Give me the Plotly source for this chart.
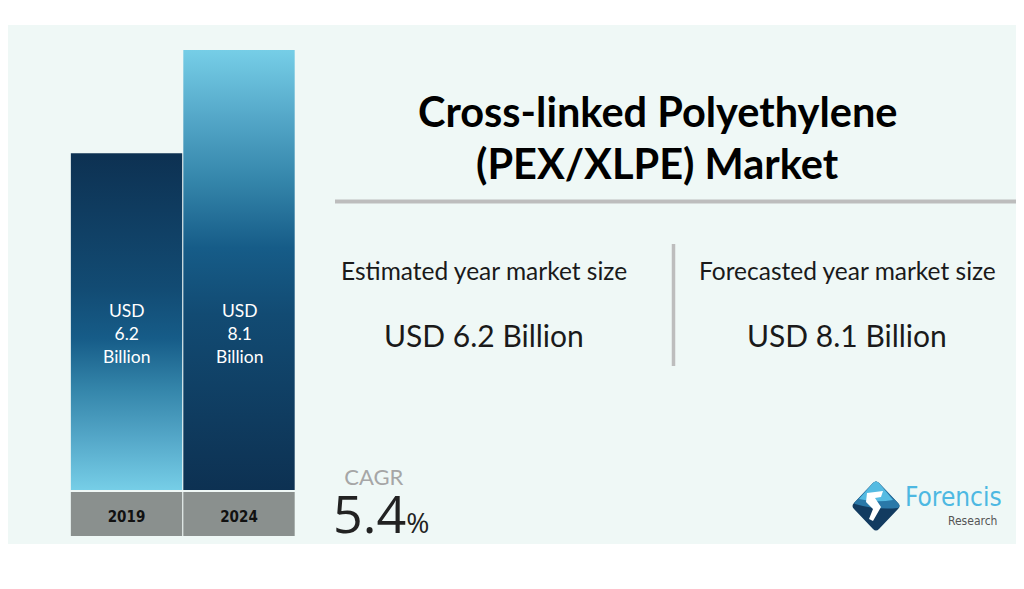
import plotly.graph_objects as go

# ---------------- data ----------------
years = ["2019", "2024"]
values = [6.2, 8.1]
unit = "Billion"
currency = "USD"
cagr = 5.4
title_lines = ["Cross-linked Polyethylene", "(PEX/XLPE) Market"]
side_labels = ["Estimated year market size", "Forecasted year market size"]

# ---------------- styles ----------------
W, H = 1024, 589
OX, OY = 8, 8  # page body margin offset
FONT = "Lato, Carlito, 'Open Sans', sans-serif"
NARROW = "'Liberation Sans Narrow', 'DejaVu Sans Condensed', Roboto, sans-serif"
BG = "#eff8f6"
dark_to_light = [
    (0.0, "#0d3152"), (0.4, "#124b73"), (0.55, "#165c88"),
    (0.7, "#3485aa"), (0.85, "#55a8c9"), (1.0, "#76cee7")
]
scales = [
    [[1 - p, c] for p, c in reversed(dark_to_light)],  # 2019: light at bottom
    [[p, c] for p, c in dark_to_light],                # 2024: dark at bottom
]
half = 0.495


def px(xp):
    return (xp - OX) / W


def py(yp):
    return 1 - (yp - OY) / H


fig = go.Figure()

# bars drawn as gradient-filled areas on the data axes
for i, (yr, v) in enumerate(zip(years, values)):
    fig.add_trace(go.Scatter(
        x=[i - half, i + half], y=[v, v],
        mode="lines", line=dict(width=0, color="rgba(0,0,0,0)"),
        fill="tozeroy",
        fillgradient=dict(type="vertical", colorscale=scales[i], start=0, stop=v),
        name=yr, hoverinfo="skip", showlegend=False,
    ))

shapes = []
# background panel
shapes.append(dict(type="rect", xref="paper", yref="paper", x0=0, x1=1.0,
                   y0=py(544), y1=py(25), fillcolor=BG, line=dict(width=0), layer="below"))
# grey year boxes
for i, yr in enumerate(years):
    shapes.append(dict(type="rect", xref="x", yref="paper", x0=i - half, x1=i + half,
                       y0=py(536), y1=py(492), fillcolor="#8a908e", line=dict(width=0),
                       layer="below"))
# separators
shapes.append(dict(type="line", xref="paper", yref="paper", x0=px(335), x1=1.0,
                   y0=py(201.5), y1=py(201.5), line=dict(color="#bdbdbd", width=4)))
shapes.append(dict(type="line", xref="paper", yref="paper", x0=px(673.5), x1=px(673.5),
                   y0=py(244), y1=py(366), line=dict(color="#bdbdbd", width=3.5)))

# logo diamond (pixel-sized around an anchor)
lx, ly = px(876), py(506)
def logo_path(d, color):
    return dict(type="path", xref="paper", yref="paper", xsizemode="pixel", ysizemode="pixel",
                xanchor=lx, yanchor=ly, path=d, fillcolor=color, line=dict(width=0))
shapes.append(logo_path("M -3,23 Q 0,26 3,23 L 22,3 Q 25,0 22,-3 L 3,-23 Q 0,-26 -3,-23 "
                        "L -22,-3 Q -25,0 -22,3 Z", "#123b60"))
shapes.append(logo_path("M -21,2 Q 0,-4 22,-2 Q 25,0 22,3 L 3,23 Q 0,26 -3,23 L -22,3 Z", "#2a78a8"))
shapes.append(logo_path("M -17,7 Q 0,3 17,6 L 3,23 Q 0,26 -3,23 Z", "#55bbe2"))
shapes.append(logo_path("M -9,13 L 7,15 L 5,9 L -1,8 L 5,-1 L -3,-15 L -7,-13 L -3,-3 "
                        "L -10,4 Z", "#ffffff"))

annotations = []
# title
for k, line in enumerate(title_lines):
    annotations.append(dict(text=f"<b>{line}</b>", xref="paper", yref="paper",
                            x=px(657), y=py(111 + 52 * k), xanchor="center", yanchor="middle",
                            showarrow=False, font=dict(family=FONT, size=41.5, color="#000000")))
# side panels
for k, (lab, v) in enumerate(zip(side_labels, values)):
    cx = [484, 847][k]
    annotations.append(dict(text=lab, xref="paper", yref="paper", x=px(cx), y=py(270),
                            xanchor="center", yanchor="middle", showarrow=False,
                            font=dict(family=FONT, size=24.5, color="#1a1a1a")))
    annotations.append(dict(text=f"{currency} {v} {unit}", xref="paper", yref="paper",
                            x=px(cx), y=py(335), xanchor="center", yanchor="middle",
                            showarrow=False, font=dict(family=FONT, size=30, color="#1a1a1a")))
# bar labels
for i, v in enumerate(values):
    annotations.append(dict(text=f"{currency}<br>{v}<br>{unit}", xref="x", yref="paper",
                            x=i, y=py(333), xanchor="center", yanchor="middle",
                            showarrow=False, align="center",
                            font=dict(family=FONT, size=17.5, color="#ffffff")))
# CAGR block (label + value in one text)
cagr_text = (f"<span style='font-family:Lato, sans-serif;font-size:22px;"
             f"color:#a6a6a6'>&nbsp;&nbsp;CAGR</span><br>"
             f"<span style='font-size:52px'>{cagr}</span>"
             f"<span style='font-size:28px'>%</span>")
annotations.append(dict(text=cagr_text, xref="paper", yref="paper", x=px(331), y=py(550),
                        xanchor="left", yanchor="bottom", align="left", showarrow=False,
                        font=dict(family="'Open Sans', sans-serif", size=37,
                                  color="#222222")))
# logo text
annotations.append(dict(text="Forencis", xref="paper", yref="paper", x=px(903), y=py(497),
                        xanchor="left", yanchor="middle", showarrow=False,
                        font=dict(family=NARROW, size=26, color="#4db8e2")))
annotations.append(dict(text="Research", xref="paper", yref="paper", x=px(999), y=py(521),
                        xanchor="right", yanchor="middle", showarrow=False,
                        font=dict(family=NARROW, size=12, color="#555555")))

fig.update_layout(
    width=W, height=H, margin=dict(l=0, r=0, t=0, b=0),
    paper_bgcolor="#ffffff", plot_bgcolor="rgba(0,0,0,0)",
    showlegend=False, shapes=shapes, annotations=annotations,
    xaxis=dict(domain=[px(70.25), px(295.25)], range=[-0.5, len(years) - 0.5],
               tickvals=list(range(len(years))), ticktext=[f"<b>{y}</b>" for y in years],
               showgrid=False, zeroline=False, showline=False, ticks="",
               ticklabelstandoff=16, fixedrange=True,
               tickfont=dict(family=NARROW, size=15, color="#111111")),
    yaxis=dict(domain=[py(490), py(50)], range=[0, max(values)], visible=False,
               fixedrange=True),
)

fig.write_html("out.html")
